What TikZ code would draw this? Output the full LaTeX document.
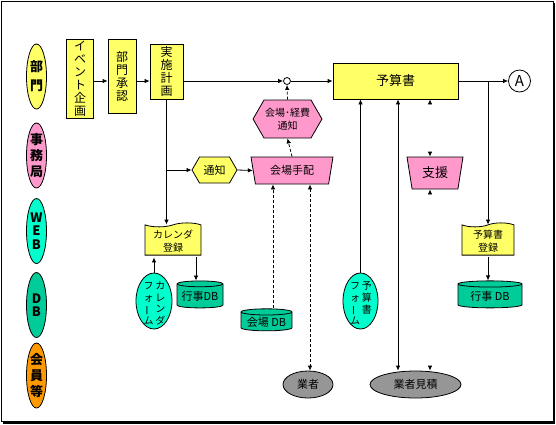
\documentclass[tikz,border=0pt]{standalone}
\usepackage{fontspec}
\setmainfont{Noto Sans CJK JP}
\usepackage{graphicx}
\usetikzlibrary{shapes.geometric, shapes.symbols, arrows.meta}

\definecolor{boxyellow}{HTML}{FFFF66}
\definecolor{boxpink}{HTML}{FF99CC}
\definecolor{formcyan}{HTML}{00FFCC}
\definecolor{dbgreen}{HTML}{00CC99}
\definecolor{memorange}{HTML}{FF9900}
\definecolor{vendorgray}{HTML}{969696}

\newcommand{\tatecol}[1]{\begin{tabular}[t]{@{}c@{}}#1\end{tabular}}
\newcommand{\tatebar}{\rotatebox[origin=c]{90}{ー}}

\begin{document}
\begin{tikzpicture}[
    x=1pt, y=-1pt,
    line width=0.8pt,
    >={Latex[length=5pt,width=4.5pt]},
    font=\fontsize{11}{12.5}\selectfont,
    lane_label/.style={ellipse, draw=black, inner sep=0pt, minimum width=20, minimum height=65, align=center, font=\fontsize{13}{16}\selectfont\bfseries},
    proc_box/.style={rectangle, draw=black, fill=boxyellow, inner sep=1pt, align=center, font=\fontsize{12}{13}\selectfont},
    notice_hex/.style={signal, signal to=east and west, signal pointer angle=120, draw=black, inner sep=1pt, align=center},
    arrange_trap/.style={trapezium, trapezium left angle=110, trapezium right angle=110, trapezium stretches body, draw=black, fill=boxpink, inner sep=1pt},
    reg_doc/.style={tape, tape bend top=in and out, tape bend bottom=none, tape bend height=4pt, draw=black, fill=boxyellow, inner sep=1pt, align=center, font=\fontsize{10}{13}\selectfont},
    form_oval/.style={ellipse, draw=black, fill=formcyan, inner sep=0pt, minimum width=36, minimum height=56},
    form_text/.style={font=\fontsize{10}{11.5}\selectfont, inner sep=0pt},
    db_cyl/.style={cylinder, shape border rotate=90, aspect=0.15, draw=black, fill=dbgreen, inner sep=1pt},
    vendor_oval/.style={ellipse, draw=black, fill=vendorgray, inner sep=0pt, minimum height=27},
    flow_arrow/.style={->},
    dash_arrow/.style={->, dash pattern=on 3pt off 2pt},
    hidden_link/.style={draw=white, {Latex[length=5pt,width=4.5pt,color=black]}-{Latex[length=5pt,width=4.5pt,color=black]}}
]
\useasboundingbox (0,0) rectangle (556,424);

% Frame with shadow
\fill[black] (2.5,2.5) rectangle (555,424);
\draw[fill=white] (1.5,1.5) rectangle (553,421.5);

% Lanes
\node[lane_label, fill=boxyellow, font=\fontsize{13}{19}\selectfont\bfseries] (lane_bumon) at (36.5,76.5) {部\\門};
\node[lane_label, fill=boxpink] (lane_jimu) at (36.5,155.5) {事\\務\\局};
\node[lane_label, fill=formcyan, font=\fontsize{13}{13.5}\selectfont\bfseries] (lane_web) at (36.5,231) {W\\E\\B};
\node[lane_label, fill=dbgreen, font=\fontsize{13}{13.5}\selectfont\bfseries] (lane_db) at (36.5,305) {D\\B};
\node[lane_label, fill=memorange] (lane_kaiin) at (36.5,375.5) {会\\員\\等};

% Department row
\node[proc_box, minimum width=26.5, minimum height=79] (event) at (80,78.5) {イ\\ベ\\ン\\ト\\企\\画};
\node[proc_box, minimum width=28, minimum height=74] (shonin) at (122,76) {部\\門\\承\\認};
\node[proc_box, minimum width=33, minimum height=55] (jisshi) at (166.5,71.5) {実\\施\\計\\画};
\node[circle, draw=black, fill=white, minimum size=7, inner sep=0pt] (junc) at (287,81) {};
\node[proc_box, minimum width=125, minimum height=36, font=\fontsize{13}{14}\selectfont] (yosan) at (395.5,81) {予算書};
\node[circle, draw=black, minimum size=22, inner sep=0pt, font=\fontsize{15}{15}\selectfont] (conn_a) at (519.5,81) {A};

% Office row
\node[notice_hex, fill=boxpink, minimum width=63, minimum height=38, font=\fontsize{10}{13}\selectfont] (kk_notice) at (287.5,119) {会場･経費\\通知};
\node[notice_hex, fill=boxyellow, minimum width=45, minimum height=26] (notice) at (214.5,170) {通知};
\node[arrange_trap, minimum width=82, minimum height=27] (kaijo) at (292,170.5) {会場手配};
\node[arrange_trap, minimum width=56, minimum height=32, font=\fontsize{13}{14}\selectfont] (shien) at (435,173) {支援};

% WEB row
\node[reg_doc, minimum width=56, minimum height=28] (cal_reg) at (173,241) {カレンダ\\登録};
\node[reg_doc, minimum width=52, minimum height=29] (yosan_reg) at (488,241) {予算書\\登録};
\node[form_oval] (cal_form) at (154,301) {};
\node[form_text, anchor=north] (cal_form_text) at (154.5,281.5) {\tatecol{フ\\ォ\\\tatebar\\ム}\,\tatecol{カ\\レ\\ン\\ダ}};
\node[form_oval, minimum width=35] (yosan_form) at (360.5,301) {};
\node[form_text, anchor=north] (yosan_form_text) at (361,281.5) {\tatecol{フ\\ォ\\\tatebar\\ム}\,\tatecol{予\\算\\書}};

% DB row
\node[db_cyl, minimum width=46, minimum height=27] (gyoji_l) at (200,296.5) {行事DB};
\node[db_cyl, minimum width=64, minimum height=27] (gyoji_r) at (490,296.5) {行事 DB};
\node[db_cyl, minimum width=51, minimum height=22] (kaijodb) at (266.5,322) {会場 DB};

% Members row
\node[vendor_oval, minimum width=50] (gyosha) at (308,384.5) {業者};
\node[vendor_oval, minimum width=91] (mitsumori) at (415.5,384.5) {業者見積};

% Main flow
\draw[flow_arrow] (event.east |- junc) -- (shonin.west |- junc);
\draw[flow_arrow] (shonin.east |- junc) -- (jisshi.west |- junc);
\draw[flow_arrow] (jisshi.east |- junc) -- (junc.west);
\draw[flow_arrow] (junc.east) -- (yosan.west);
\draw[flow_arrow] (yosan.east) -- (conn_a.west);
\draw[flow_arrow] (yosan_reg.north |- yosan.east) -- (yosan_reg.north);
\draw[flow_arrow] (yosan_reg.south) -- (yosan_reg.south |- gyoji_r.north);

% Calendar branch
\draw[flow_arrow] (jisshi.south) -- (jisshi.south |- cal_reg.north);
\draw[flow_arrow] (jisshi.south |- notice.west) -- (notice.west);
\draw[flow_arrow] (notice.east) -- (kaijo.west);
\draw[flow_arrow] (cal_form.north) -- (cal_form.north |- cal_reg.south);
\draw[flow_arrow] ([xshift=-4]gyoji_l.north |- cal_reg.south) -- ([xshift=-4]gyoji_l.north);

% Venue arrangement
\draw[dash_arrow] (kaijo.north) -- (kk_notice.south);
\draw[dash_arrow] (kk_notice.north) -- (junc.south);
\draw[dash_arrow] ([xshift=6.5]kaijodb.north) -- ([xshift=6.5]kaijodb.north |- kaijo.south);
\draw[dash_arrow, <->] ([xshift=2]gyosha.north |- kaijo.south) -- ([xshift=2]gyosha.north);

% Budget links
\draw[flow_arrow] (yosan_form.north) -- (yosan_form.north |- yosan.south);
\draw[<->] ([xshift=-17.5]mitsumori.north |- yosan.south) -- ([xshift=-17.5]mitsumori.north);
\draw[hidden_link] ([xshift=-5]shien.north |- yosan.south) -- ([xshift=-5]shien.north);
\draw[hidden_link] ([xshift=-5]shien.south) -- ([xshift=-5]shien.south |- mitsumori.north);

\end{tikzpicture}
\end{document}
